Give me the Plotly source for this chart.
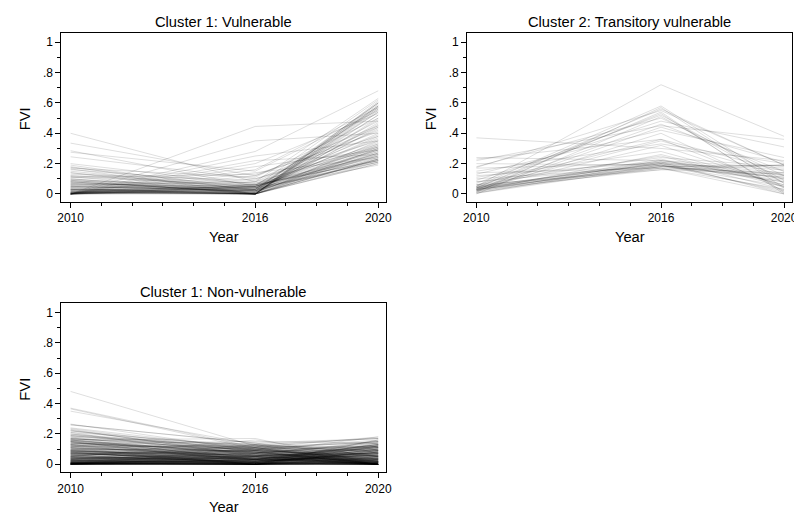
import plotly.graph_objects as go

# the page body has an 8px margin; the figure is sized and positioned to compensate
OFF = 8
W, H = 802 - OFF, 512 - OFF
years = [2010, 2016, 2020]

# ---- Cluster 1: Vulnerable ----
c1v_2010 = [0.40, 0.335, 0.285, 0.275, 0.245, 0.20, 0.19, 0.18, 0.175, 0.17,
            0.165, 0.16, 0.15, 0.14, 0.13, 0.12, 0.115, 0.11, 0.10, 0.095,
            0.09, 0.085, 0.08, 0.075, 0.07, 0.065, 0.06, 0.055, 0.05, 0.045,
            0.04, 0.035, 0.03, 0.03, 0.025, 0.02, 0.02, 0.015, 0.015, 0.01,
            0.01, 0.01, 0.005, 0.005, 0.005, 0.0, 0.0, 0.0, 0.0, 0.0,
            0.0, 0.0, 0.0, 0.0, 0.0, 0.0, 0.0, 0.0, 0.0, 0.0,
            0.02, 0.04, 0.06, 0.08, 0.10, 0.12, 0.03, 0.05, 0.01, 0.0,
            0.0, 0.0, 0.01, 0.02, 0.03, 0.05, 0.07, 0.09, 0.11, 0.14,
            0.0, 0.01, 0.0, 0.04, 0.06, 0.02, 0.0, 0.08, 0.03, 0.0]
c1v_2016 = [0.08, 0.12, 0.05, 0.15, 0.10, 0.06, 0.02, 0.0, 0.04, 0.11,
            0.0, 0.07, 0.03, 0.0, 0.09, 0.05, 0.0, 0.13, 0.02, 0.04,
            0.0, 0.06, 0.01, 0.03, 0.0, 0.05, 0.08, 0.0, 0.02, 0.04,
            0.06, 0.0, 0.03, 0.01, 0.05, 0.0, 0.02, 0.04, 0.0, 0.03,
            0.06, 0.01, 0.0, 0.05, 0.02, 0.445, 0.35, 0.28, 0.25, 0.22,
            0.20, 0.18, 0.16, 0.14, 0.12, 0.10, 0.08, 0.06, 0.04, 0.02,
            0.0, 0.0, 0.03, 0.01, 0.0, 0.07, 0.0, 0.02, 0.0, 0.05,
            0.0, 0.03, 0.0, 0.05, 0.0, 0.02, 0.04, 0.0, 0.06, 0.03,
            0.01, 0.0, 0.04, 0.0, 0.02, 0.0, 0.05, 0.01, 0.0, 0.03]
c1v_2020 = [0.30, 0.45, 0.25, 0.55, 0.35, 0.22, 0.60, 0.28, 0.40, 0.50,
            0.21, 0.33, 0.57, 0.26, 0.44, 0.62, 0.23, 0.38, 0.52, 0.29,
            0.20, 0.48, 0.31, 0.58, 0.24, 0.36, 0.42, 0.27, 0.54, 0.19,
            0.32, 0.61, 0.22, 0.46, 0.28, 0.56, 0.25, 0.34, 0.50, 0.21,
            0.39, 0.59, 0.30, 0.23, 0.43, 0.48, 0.40, 0.68, 0.35, 0.26,
            0.53, 0.29, 0.57, 0.24, 0.41, 0.31, 0.63, 0.22, 0.37, 0.27,
            0.58, 0.20, 0.45, 0.30, 0.55, 0.25, 0.60, 0.33, 0.23, 0.29,
            0.52, 0.27, 0.58, 0.31, 0.47, 0.22, 0.56, 0.35, 0.24, 0.60,
            0.29, 0.44, 0.21, 0.54, 0.32, 0.57, 0.26, 0.49, 0.23, 0.38]

# ---- Cluster 2: Transitory vulnerable ----
c2_2010 = [0.37, 0.24, 0.23, 0.22, 0.20, 0.18, 0.175, 0.17, 0.15, 0.14,
           0.13, 0.12, 0.11, 0.10, 0.09, 0.08, 0.08, 0.07, 0.06, 0.06,
           0.05, 0.05, 0.05, 0.045, 0.04, 0.04, 0.04, 0.04, 0.035, 0.035,
           0.03, 0.03, 0.03, 0.03, 0.025, 0.025, 0.02, 0.02, 0.02, 0.015,
           0.01, 0.01, 0.005, 0.005, 0.0, 0.03, 0.04, 0.05, 0.02, 0.06]
c2_2016 = [0.30, 0.22, 0.36, 0.45, 0.19, 0.50, 0.55, 0.20, 0.33, 0.17,
           0.42, 0.21, 0.28, 0.18, 0.48, 0.24, 0.19, 0.52, 0.16, 0.36,
           0.72, 0.20, 0.58, 0.18, 0.53, 0.22, 0.17, 0.56, 0.21, 0.32,
           0.19, 0.46, 0.23, 0.18, 0.54, 0.20, 0.26, 0.17, 0.40, 0.22,
           0.19, 0.57, 0.18, 0.21, 0.51, 0.16, 0.35, 0.20, 0.44, 0.25]
c2_2020 = [0.22, 0.10, 0.15, 0.36, 0.05, 0.12, 0.19, 0.08, 0.20, 0.03,
           0.24, 0.14, 0.06, 0.11, 0.31, 0.18, 0.02, 0.09, 0.13, 0.04,
           0.38, 0.16, 0.07, 0.19, 0.01, 0.12, 0.0, 0.19, 0.10, 0.05,
           0.08, 0.15, 0.03, 0.19, 0.0, 0.11, 0.06, 0.14, 0.02, 0.17,
           0.09, 0.04, 0.13, 0.0, 0.07, 0.19, 0.12, 0.01, 0.21, 0.05]

# ---- Cluster 1: Non-vulnerable ----
c1n_2010 = [0.48, 0.37, 0.365, 0.35, 0.265, 0.26, 0.235, 0.23, 0.22, 0.21,
            0.20, 0.19, 0.18, 0.175, 0.17, 0.165, 0.16, 0.155, 0.15, 0.145,
            0.14, 0.135, 0.13, 0.125, 0.12, 0.115, 0.11, 0.105, 0.10, 0.10,
            0.095, 0.09, 0.09, 0.085, 0.08, 0.08, 0.075, 0.07, 0.07, 0.065,
            0.06, 0.06, 0.055, 0.05, 0.05, 0.05, 0.045, 0.04, 0.04, 0.04,
            0.035, 0.035, 0.03, 0.03, 0.03, 0.025, 0.025, 0.025, 0.02, 0.02,
            0.02, 0.02, 0.015, 0.015, 0.015, 0.015, 0.01, 0.01, 0.01, 0.01,
            0.01, 0.008, 0.008, 0.006, 0.006, 0.005, 0.005, 0.004, 0.004, 0.003,
            0.003, 0.002, 0.002, 0.001, 0.001, 0.0, 0.0, 0.0, 0.0, 0.0,
            0.0, 0.0, 0.0, 0.0, 0.0, 0.0, 0.0, 0.0, 0.0, 0.0,
            0.012, 0.018, 0.022, 0.028, 0.032, 0.038, 0.042, 0.048, 0.052, 0.058,
            0.062, 0.068, 0.072, 0.078, 0.082, 0.088, 0.092, 0.098, 0.11, 0.12,
            0.13, 0.14, 0.15, 0.16, 0.012, 0.008, 0.005, 0.002, 0.0, 0.0,
            0.015, 0.025, 0.035, 0.045, 0.055, 0.065, 0.075, 0.085, 0.012, 0.006,
            0.004, 0.0, 0.0, 0.01, 0.02, 0.03, 0.01, 0.0, 0.005, 0.0,
            0.24, 0.22, 0.21, 0.20, 0.19, 0.18, 0.17, 0.16, 0.15, 0.14,
            0.13, 0.12, 0.11, 0.10, 0.09, 0.08, 0.07, 0.06, 0.05, 0.04,
            0.185, 0.165, 0.145, 0.125, 0.105, 0.085, 0.065, 0.045, 0.035, 0.025,
            0.155, 0.135, 0.115, 0.095, 0.075, 0.055, 0.03, 0.02, 0.01, 0.0,
            0.17, 0.15, 0.13, 0.11, 0.09, 0.07, 0.05, 0.03, 0.015, 0.005,
            0.26, 0.225, 0.195, 0.16, 0.12, 0.08, 0.04, 0.02, 0.01, 0.0]
c1n_2016 = [0.12, 0.11, 0.10, 0.13, 0.09, 0.14, 0.08, 0.05, 0.11, 0.03,
            0.10, 0.07, 0.12, 0.02, 0.09, 0.13, 0.06, 0.04, 0.11, 0.01,
            0.08, 0.15, 0.03, 0.10, 0.05, 0.12, 0.0, 0.07, 0.09, 0.02,
            0.14, 0.04, 0.11, 0.06, 0.0, 0.13, 0.08, 0.03, 0.10, 0.05,
            0.01, 0.09, 0.12, 0.02, 0.07, 0.16, 0.04, 0.0, 0.11, 0.06,
            0.03, 0.10, 0.08, 0.01, 0.13, 0.05, 0.0, 0.09, 0.02, 0.07,
            0.12, 0.04, 0.0, 0.06, 0.10, 0.01, 0.08, 0.03, 0.0, 0.05,
            0.02, 0.11, 0.0, 0.07, 0.04, 0.0, 0.09, 0.01, 0.03, 0.0,
            0.06, 0.02, 0.0, 0.05, 0.01, 0.0, 0.08, 0.03, 0.0, 0.04,
            0.0, 0.02, 0.06, 0.0, 0.01, 0.10, 0.0, 0.03, 0.05, 0.0,
            0.0, 0.04, 0.01, 0.0, 0.07, 0.02, 0.0, 0.03, 0.12, 0.01,
            0.0, 0.05, 0.02, 0.0, 0.09, 0.01, 0.04, 0.0, 0.06, 0.03,
            0.0, 0.08, 0.02, 0.17, 0.01, 0.0, 0.03, 0.0, 0.05, 0.0,
            0.02, 0.0, 0.04, 0.01, 0.0, 0.06, 0.03, 0.0, 0.01, 0.0,
            0.02, 0.0, 0.01, 0.0, 0.03, 0.0, 0.0, 0.01, 0.0, 0.02,
            0.10, 0.08, 0.12, 0.06, 0.09, 0.04, 0.11, 0.07, 0.02, 0.10,
            0.05, 0.08, 0.03, 0.09, 0.06, 0.01, 0.07, 0.04, 0.02, 0.05,
            0.13, 0.03, 0.08, 0.11, 0.0, 0.06, 0.09, 0.02, 0.04, 0.01,
            0.07, 0.10, 0.04, 0.0, 0.08, 0.05, 0.02, 0.06, 0.0, 0.03,
            0.09, 0.01, 0.12, 0.05, 0.03, 0.07, 0.0, 0.04, 0.02, 0.0,
            0.14, 0.06, 0.10, 0.03, 0.08, 0.0, 0.05, 0.01, 0.03, 0.0]
c1n_2020 = [0.14, 0.10, 0.16, 0.08, 0.12, 0.05, 0.18, 0.02, 0.09, 0.13,
            0.06, 0.15, 0.01, 0.11, 0.04, 0.17, 0.07, 0.12, 0.0, 0.10,
            0.03, 0.14, 0.08, 0.0, 0.11, 0.05, 0.16, 0.02, 0.09, 0.13,
            0.01, 0.07, 0.18, 0.04, 0.12, 0.0, 0.10, 0.06, 0.15, 0.02,
            0.08, 0.0, 0.11, 0.03, 0.14, 0.05, 0.01, 0.09, 0.0, 0.12,
            0.04, 0.07, 0.0, 0.10, 0.02, 0.13, 0.06, 0.0, 0.08, 0.01,
            0.11, 0.03, 0.0, 0.05, 0.15, 0.0, 0.07, 0.02, 0.09, 0.0,
            0.04, 0.0, 0.12, 0.01, 0.06, 0.0, 0.03, 0.10, 0.0, 0.02,
            0.0, 0.05, 0.08, 0.0, 0.01, 0.03, 0.0, 0.11, 0.02, 0.0,
            0.04, 0.0, 0.01, 0.07, 0.0, 0.02, 0.0, 0.06, 0.0, 0.01,
            0.03, 0.0, 0.09, 0.0, 0.02, 0.05, 0.0, 0.01, 0.17, 0.0,
            0.04, 0.0, 0.02, 0.08, 0.0, 0.01, 0.0, 0.03, 0.0, 0.13,
            0.0, 0.02, 0.06, 0.0, 0.01, 0.0, 0.04, 0.0, 0.02, 0.0,
            0.01, 0.05, 0.0, 0.02, 0.0, 0.03, 0.0, 0.01, 0.0, 0.07,
            0.0, 0.01, 0.0, 0.02, 0.0, 0.0, 0.04, 0.0, 0.01, 0.0,
            0.12, 0.03, 0.09, 0.15, 0.06, 0.11, 0.02, 0.14, 0.08, 0.05,
            0.10, 0.01, 0.13, 0.04, 0.07, 0.16, 0.0, 0.09, 0.12, 0.03,
            0.06, 0.10, 0.02, 0.08, 0.14, 0.0, 0.05, 0.11, 0.01, 0.07,
            0.13, 0.04, 0.09, 0.02, 0.0, 0.12, 0.06, 0.0, 0.10, 0.03,
            0.05, 0.08, 0.0, 0.11, 0.02, 0.04, 0.09, 0.0, 0.06, 0.01,
            0.17, 0.07, 0.03, 0.12, 0.0, 0.05, 0.02, 0.08, 0.0, 0.04]

titles = ["Cluster 1: Vulnerable", "Cluster 2: Transitory vulnerable", "Cluster 1: Non-vulnerable"]
y_ticks = [0, 0.2, 0.4, 0.6, 0.8, 1]
y_ticktext = ["0", ".2", ".4", ".6", ".8", "1"]
y_minor = [0.1, 0.3, 0.5, 0.7, 0.9]
x_ticks = [2010, 2016, 2020]
x_minor = [2011, 2012, 2013, 2014, 2015, 2017, 2018, 2019]

FONT = "Arial, Liberation Sans, sans-serif"
LINE = "rgba(0,0,0,0.13)"

panels = [
    (c1v_2010, c1v_2016, c1v_2020),
    (c2_2010, c2_2016, c2_2020),
    (c1n_2010, c1n_2016, c1n_2020),
]
# frames in screen pixels: left, right, top, bottom
frames = [(58, 387, 33, 202), (469, 798, 33, 202), (58, 387, 303.3, 472.3)]


def px(x):
    return (x - OFF) / W


def py(y):
    return 1 - (y - OFF) / H


fig = go.Figure()
for i, (a, b, c) in enumerate(panels):
    ax = "" if i == 0 else str(i + 1)
    for k in range(len(a)):
        fig.add_trace(go.Scatter(
            x=years, y=[a[k], b[k], c[k]], mode="lines",
            line=dict(color=LINE, width=1),
            xaxis="x" + ax, yaxis="y" + ax,
            showlegend=False, hoverinfo="skip"))

layout = dict(width=W, height=H, margin=dict(l=0, r=0, t=0, b=0),
              paper_bgcolor="white", plot_bgcolor="white",
              font=dict(family=FONT, color="black"), showlegend=False)
annotations = []
for i, (l, r, t, b) in enumerate(frames):
    ax = "" if i == 0 else str(i + 1)
    layout["xaxis" + ax] = dict(
        domain=[px(l), px(r)], range=[2009.70, 2020.26],
        anchor="y" + ax, tickvals=x_ticks, ticktext=[str(v) for v in x_ticks],
        ticks="outside", ticklen=5, tickwidth=1, tickcolor="black",
        minor=dict(tickvals=x_minor, ticks="outside", ticklen=3, tickcolor="black"),
        showline=True, linecolor="black", linewidth=1, mirror=True,
        showgrid=False, zeroline=False, tickfont=dict(size=12, family=FONT))
    layout["yaxis" + ax] = dict(
        domain=[py(b), py(t)], range=[-0.053, 1.061],
        anchor="x" + ax, tickvals=y_ticks, ticktext=y_ticktext,
        ticks="outside", ticklen=5, tickwidth=1, tickcolor="black",
        minor=dict(tickvals=y_minor, ticks="outside", ticklen=3, tickcolor="black"),
        showline=True, linecolor="black", linewidth=1, mirror=True,
        showgrid=False, zeroline=False, tickfont=dict(size=12, family=FONT))
    cx = (l + r) / 2
    annotations.append(dict(text=titles[i], x=px(cx), y=py(t - 11.5),
                            xref="paper", yref="paper", showarrow=False,
                            xanchor="center", yanchor="middle",
                            font=dict(size=14.7, family=FONT)))
    annotations.append(dict(text="Year", x=px(cx), y=py(b + 35),
                            xref="paper", yref="paper", showarrow=False,
                            xanchor="center", yanchor="middle",
                            font=dict(size=14.7, family=FONT)))
    annotations.append(dict(text="FVI", x=px(l - 36.5), y=py(t + 86),
                            xref="paper", yref="paper", showarrow=False,
                            textangle=-90, xanchor="center", yanchor="middle",
                            font=dict(size=14.7, family=FONT)))
layout["annotations"] = annotations
fig.update_layout(**layout)
fig.write_html("out.html")
